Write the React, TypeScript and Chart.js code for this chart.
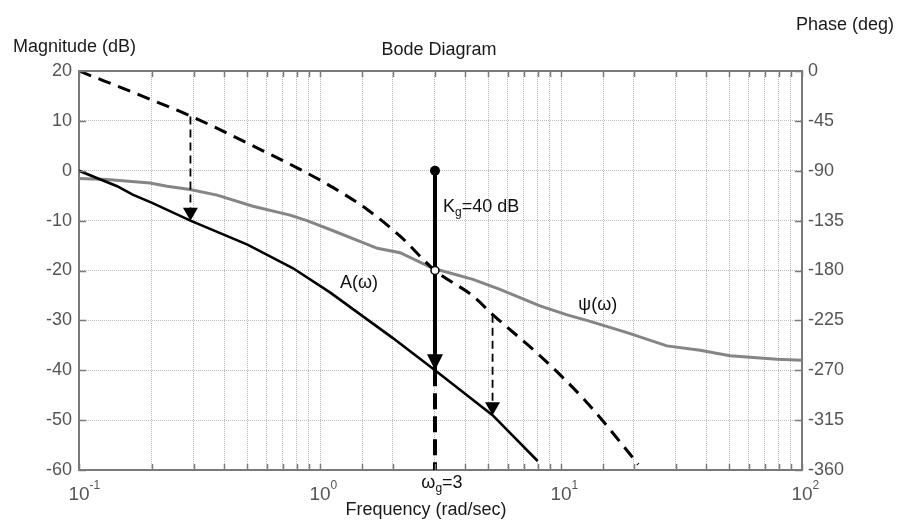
import React, { useEffect, useRef } from 'react';
import { Chart, registerables } from 'chart.js';

Chart.register(...registerables);

// ---- Data ----
// A(ω): magnitude curve (dB), left axis
const omegaA = [0.1, 0.144, 0.167, 0.2, 0.29, 0.5, 0.77, 1.1, 2, 3, 5.2, 8.0];
const magA = [0, -3.1, -4.8, -6.4, -10, -14.8, -19.5, -24.4, -33.5, -40, -49, -58.2];

// ψ(ω): phase curve (deg), right axis, gray
const omegaPsi = [0.1, 0.131, 0.197, 0.232, 0.289, 0.374, 0.527, 0.751, 0.883, 1.1, 1.73, 2.15, 2.94, 4.31, 5.58, 8.18, 10.6, 12.8, 18.8, 27.5, 37.8, 50.2, 78.7, 100];
const phasePsi = [-97, -98, -101, -104, -107, -112, -122, -130, -135, -143, -160, -164, -178, -188, -197, -212, -220, -225, -236, -248, -252, -257, -260, -261];

// φ(ω): phase curve (deg), right axis, dashed
const omegaPhi = [0.1, 0.2, 0.3, 0.58, 0.83, 1.13, 1.57, 2.15, 3, 4.31, 5.22, 8.19, 12.8, 18.1, 20.9];
const phasePhi = [0, -26, -42, -72, -89, -105, -125, -149, -180, -203, -220, -257, -299, -338, -355];

// Axis ticks
const magMin = -60;
const magMax = 20;
const magStep = 10;
const phaseMin = -360;
const phaseMax = 0;
const phaseStep = 45;
const freqMin = 0.1;
const freqMax = 100;
const decadeValues = [0.1, 1, 10, 100];
const decadeExps = ['-1', '0', '1', '2'];

// Gain margin annotation
const omegaG = 3;
const kgTopDb = 0;
const kgBottomDb = -40;
const crossPhase = -180;

// Dotted arrows from φ(ω) to A(ω)
const arrowOmega = [0.29, 5.2];
const arrowStartPhase = [-41, -220];
const arrowEndMag = [-10, -49];

// Text labels (anchor in data units)
const labelKg = { omega: 3.24, db: -8.2 };
const labelA = { omega: 1.21, db: -23.6 };
const labelPsi = { omega: 11.8, db: -28 };

const FONT = '"Liberation Sans", Arial, Helvetica, sans-serif';

const pts = (xs: number[], ys: number[]) => xs.map((x, i) => ({ x, y: ys[i] }));

function drawSub(
  ctx: CanvasRenderingContext2D,
  x: number,
  y: number,
  base: string,
  sub: string,
  rest: string,
  size: number,
  color: string,
  align: 'left' | 'center'
) {
  ctx.save();
  ctx.fillStyle = color;
  ctx.textBaseline = 'alphabetic';
  ctx.textAlign = 'left';
  const f1 = `${size}px ${FONT}`;
  const f2 = `${Math.round(size * 0.68)}px ${FONT}`;
  ctx.font = f1;
  const w1 = ctx.measureText(base).width;
  const w3 = ctx.measureText(rest).width;
  ctx.font = f2;
  const w2 = ctx.measureText(sub).width;
  const x0 = align === 'center' ? x - (w1 + w2 + w3) / 2 : x;
  ctx.font = f1;
  ctx.fillText(base, x0, y);
  ctx.font = f2;
  ctx.fillText(sub, x0 + w1, y + size * 0.22);
  ctx.font = f1;
  ctx.fillText(rest, x0 + w1 + w2, y);
  ctx.restore();
}

function arrowHead(ctx: CanvasRenderingContext2D, x: number, yTip: number, hw: number, h: number) {
  ctx.beginPath();
  ctx.moveTo(x, yTip);
  ctx.lineTo(x - hw, yTip - h);
  ctx.lineTo(x + hw, yTip - h);
  ctx.closePath();
  ctx.fill();
}

const bodePlugin = {
  id: 'bodeExtras',
  afterDatasetsDraw(chart: any) {
    const ctx: CanvasRenderingContext2D = chart.ctx;
    const xs = chart.scales.x;
    const ym = chart.scales.y;
    const yp = chart.scales.y2;
    ctx.save();
    // dotted arrows
    ctx.strokeStyle = '#000';
    ctx.fillStyle = '#000';
    for (let i = 0; i < arrowOmega.length; i++) {
      const px = xs.getPixelForValue(arrowOmega[i]);
      const y0 = yp.getPixelForValue(arrowStartPhase[i]);
      const y1 = ym.getPixelForValue(arrowEndMag[i]);
      ctx.lineWidth = 1.8;
      ctx.setLineDash([8, 5]);
      ctx.beginPath();
      ctx.moveTo(px, y0);
      ctx.lineTo(px, y1 - 10);
      ctx.stroke();
      ctx.setLineDash([]);
      arrowHead(ctx, px, y1, 7.5, 13);
    }
    // Kg arrowhead
    const gx = xs.getPixelForValue(omegaG);
    arrowHead(ctx, gx, ym.getPixelForValue(kgBottomDb), 8, 16);
    // white circle at crossing
    const cy = yp.getPixelForValue(crossPhase);
    ctx.beginPath();
    ctx.arc(gx, cy, 4, 0, Math.PI * 2);
    ctx.fillStyle = '#fff';
    ctx.fill();
    ctx.lineWidth = 1.5;
    ctx.strokeStyle = '#000';
    ctx.stroke();
    ctx.restore();

    // labels inside plot
    drawSub(ctx, xs.getPixelForValue(labelKg.omega), ym.getPixelForValue(labelKg.db), 'K', 'g', '=40 dB', 18, '#111', 'left');
    ctx.save();
    ctx.fillStyle = '#111';
    ctx.font = `18px ${FONT}`;
    ctx.textAlign = 'left';
    ctx.textBaseline = 'alphabetic';
    ctx.fillText('A(ω)', xs.getPixelForValue(labelA.omega), ym.getPixelForValue(labelA.db));
    ctx.fillText('ψ(ω)', xs.getPixelForValue(labelPsi.omega), ym.getPixelForValue(labelPsi.db));
    ctx.restore();
  },
  afterDraw(chart: any) {
    const ctx: CanvasRenderingContext2D = chart.ctx;
    const area = chart.chartArea;
    const xs = chart.scales.x;
    const ym = chart.scales.y;
    const yp = chart.scales.y2;
    ctx.save();
    // top border
    ctx.strokeStyle = '#7a7a7a';
    ctx.lineWidth = 2;
    ctx.beginPath();
    ctx.moveTo(area.left, area.top);
    ctx.lineTo(area.right, area.top);
    ctx.stroke();
    // inward ticks
    ctx.lineWidth = 1.5;
    xs.ticks.forEach((t: any) => {
      const px = Math.round(xs.getPixelForValue(t.value)) + 0.5;
      ctx.beginPath();
      ctx.moveTo(px, area.bottom);
      ctx.lineTo(px, area.bottom - 6);
      ctx.moveTo(px, area.top);
      ctx.lineTo(px, area.top + 6);
      ctx.stroke();
    });
    ym.ticks.forEach((t: any) => {
      const py = Math.round(ym.getPixelForValue(t.value)) + 0.5;
      ctx.beginPath();
      ctx.moveTo(area.left, py);
      ctx.lineTo(area.left + 7, py);
      ctx.stroke();
    });
    yp.ticks.forEach((t: any) => {
      const py = Math.round(yp.getPixelForValue(t.value)) + 0.5;
      ctx.beginPath();
      ctx.moveTo(area.right, py);
      ctx.lineTo(area.right - 7, py);
      ctx.stroke();
    });

    // x decade labels with superscripts
    ctx.fillStyle = '#555';
    ctx.textBaseline = 'alphabetic';
    decadeValues.forEach((v, i) => {
      const px = xs.getPixelForValue(v);
      ctx.font = `19px ${FONT}`;
      ctx.textAlign = 'center';
      ctx.fillText('10', px, area.bottom + 30);
      const w = ctx.measureText('10').width;
      ctx.font = `12px ${FONT}`;
      ctx.textAlign = 'left';
      ctx.fillText(decadeExps[i], px + w / 2, area.bottom + 19);
    });

    // ωg label
    drawSub(ctx, xs.getPixelForValue(omegaG) + 7, area.bottom + 18, 'ω', 'g', '=3', 18, '#111', 'center');

    // titles
    ctx.fillStyle = '#1a1a1a';
    ctx.font = `18px ${FONT}`;
    ctx.textBaseline = 'alphabetic';
    ctx.textAlign = 'left';
    ctx.fillText('Magnitude (dB)', 13, 52);
    ctx.textAlign = 'center';
    ctx.fillText('Bode Diagram', 439, 55);
    ctx.fillText('Frequency (rad/sec)', 426, 515);
    ctx.textAlign = 'right';
    ctx.fillText('Phase (deg)', 894, 30);
    ctx.restore();
  },
};

export default function App() {
  const ref = useRef<HTMLCanvasElement | null>(null);
  useEffect(() => {
    document.body.style.margin = '0';
    const canvas = ref.current;
    if (!canvas) return;
    const chart = new Chart(canvas, {
      type: 'line',
      data: {
        datasets: [
          {
            label: 'Kg',
            data: pts([omegaG, omegaG], [kgTopDb, kgBottomDb]),
            yAxisID: 'y',
            borderColor: '#000',
            borderWidth: 4,
            pointRadius: [5, 0],
            pointBackgroundColor: '#000',
            pointBorderWidth: 0,
            tension: 0,
          },
          {
            label: 'below',
            data: pts([omegaG, omegaG], [kgBottomDb, magMin]),
            yAxisID: 'y',
            borderColor: '#000',
            borderWidth: 4,
            borderDash: [16, 7],
            pointRadius: 0,
            tension: 0,
          },
          {
            label: 'A(ω)',
            data: pts(omegaA, magA),
            yAxisID: 'y',
            borderColor: '#000',
            borderWidth: 2.6,
            pointRadius: 0,
            tension: 0,
          },
          {
            label: 'φ(ω)',
            data: pts(omegaPhi, phasePhi),
            yAxisID: 'y2',
            borderColor: '#000',
            borderWidth: 3,
            borderDash: [13, 8],
            pointRadius: 0,
            cubicInterpolationMode: 'monotone',
          },
          {
            label: 'ψ(ω)',
            data: pts(omegaPsi, phasePsi),
            yAxisID: 'y2',
            borderColor: '#858585',
            borderWidth: 3,
            pointRadius: 0,
            tension: 0,
          },
        ],
      },
      options: {
        animation: false,
        responsive: false,
        events: [],
        layout: { padding: { top: 71, left: 0, right: 0, bottom: 0 } },
        plugins: { legend: { display: false }, tooltip: { enabled: false }, title: { display: false } },
        scales: {
          x: {
            type: 'logarithmic',
            min: freqMin,
            max: freqMax,
            position: 'bottom',
            afterFit: (s: any) => {
              s.height = 51;
            },
            ticks: { display: false, autoSkip: false },
            grid: { color: '#bdbdbd', lineWidth: 1, drawTicks: false },
            border: { display: true, color: '#7a7a7a', width: 2, dash: [1, 1] },
          },
          y: {
            type: 'linear',
            position: 'left',
            min: magMin,
            max: magMax,
            afterFit: (s: any) => {
              s.width = 79;
            },
            ticks: {
              stepSize: magStep,
              padding: 7,
              color: '#555',
              font: { family: FONT, size: 18 },
            },
            grid: { color: '#bdbdbd', lineWidth: 1, drawTicks: false },
            border: { display: true, color: '#7a7a7a', width: 2, dash: [1, 1] },
          },
          y2: {
            type: 'linear',
            position: 'right',
            min: phaseMin,
            max: phaseMax,
            afterFit: (s: any) => {
              s.width = 95;
            },
            ticks: {
              stepSize: phaseStep,
              padding: 6,
              color: '#555',
              font: { family: FONT, size: 18 },
            },
            grid: { display: false, drawTicks: false },
            border: { display: true, color: '#7a7a7a', width: 2 },
          },
        },
      },
      plugins: [bodePlugin],
    } as any);
    return () => chart.destroy();
  }, []);
  return <canvas ref={ref} width={897} height={521} style={{ display: 'block' }} />;
}
